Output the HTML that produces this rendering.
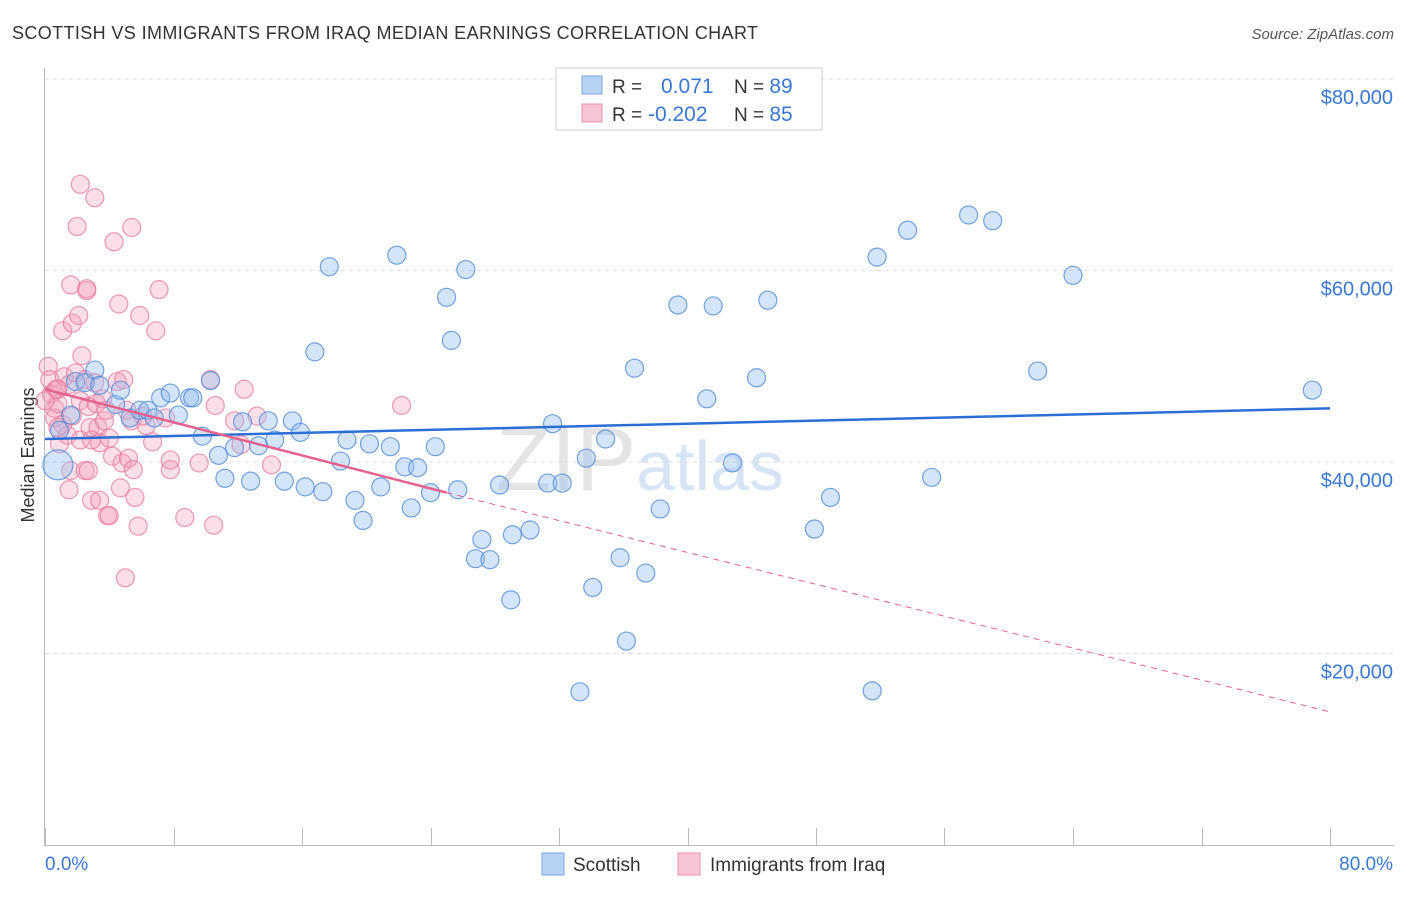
<!DOCTYPE html>
<html><head><meta charset="utf-8"><style>
body{margin:0;background:#fff;font-family:"Liberation Sans",sans-serif}
svg text{font-family:"Liberation Sans",sans-serif}
</style></head><body>
<svg id="c" width="1406" height="892">
<text x="12" y="39" font-size="18" fill="#333" textLength="746">SCOTTISH VS IMMIGRANTS FROM IRAQ MEDIAN EARNINGS CORRELATION CHART</text>
<text x="1394" y="39" font-size="15" fill="#555" font-style="italic" text-anchor="end">Source: ZipAtlas.com</text>
<text x="34" y="455" font-size="18" fill="#333" text-anchor="middle" transform="rotate(-90 34 455)">Median Earnings</text>
<text x="640" y="490" font-size="90" fill="#e4e4e4" text-anchor="middle" font-family="Liberation Serif">ZIP<tspan fill="#d6e4f3" font-family="Liberation Sans" font-size="70">atlas</tspan></text>
<g id="grid"></g><g id="axes"></g><g id="pink"></g><g id="blue"></g><g id="trend"></g>
<g>
<rect x="556" y="68" width="266" height="62" fill="#fff" stroke="#ccc"/>
<rect x="582" y="76" width="20" height="18" fill="#b8d2f3" stroke="#7aa7e0"/>
<rect x="582" y="104" width="20" height="18" fill="#f8c5d4" stroke="#ea8fab"/>
<text x="612" y="93" font-size="19" fill="#333">R = <tspan x="661" fill="#3a78d6" font-size="21">0.071</tspan><tspan x="734" fill="#333">N = </tspan><tspan fill="#3a78d6" font-size="21">89</tspan></text>
<text x="612" y="121" font-size="19" fill="#333">R = <tspan x="648" fill="#3a78d6" font-size="21">-0.202</tspan><tspan x="734" fill="#333">N = </tspan><tspan fill="#3a78d6" font-size="21">85</tspan></text>
</g>
<g>
<rect x="542" y="853" width="22" height="22" fill="#b8d2f3" stroke="#7aa7e0"/>
<text x="573" y="871" font-size="19" fill="#333">Scottish</text>
<rect x="678" y="853" width="22" height="22" fill="#f8c5d4" stroke="#ea8fab"/>
<text x="710" y="871" font-size="19" fill="#333">Immigrants from Iraq</text>
</g>
</svg>
<script>
const yTicks=[20000,40000,60000,80000];
const yTickLabels=["$20,000","$40,000","$60,000","$80,000"];
const xTickLabels=["0.0%","80.0%"];
const blueX=[0.8,0.9,1.6,1.9,2.5,3.1,3.4,4.4,4.7,5.3,5.9,6.4,6.8,7.2,7.8,8.3,9.0,9.2,9.8,10.3,10.8,11.2,11.8,12.3,12.8,13.3,13.9,14.3,14.9,15.4,15.9,16.2,16.8,17.3,17.7,18.4,18.8,19.3,19.8,20.2,20.9,21.5,21.9,22.4,22.8,23.2,24.0,24.3,25.0,25.3,25.7,26.2,27.2,26.8,27.7,28.3,29.0,29.1,30.2,31.3,31.6,32.2,33.3,33.7,34.1,34.9,35.8,36.2,36.7,37.4,38.3,39.4,41.2,41.6,42.8,44.3,45.0,47.9,48.9,51.5,51.8,53.7,55.2,57.5,59.0,61.8,64.0,78.9];
const blueY=[39.7,43.3,44.9,48.4,48.3,49.6,48.0,46.0,47.5,44.6,45.4,45.4,44.6,46.7,47.2,44.9,46.7,46.7,42.7,48.5,40.7,38.3,41.5,44.2,38.0,41.7,44.3,42.3,38.0,44.3,43.1,37.4,51.5,36.9,60.4,40.1,42.3,36.0,33.9,41.9,37.4,41.6,61.6,39.5,35.2,39.4,36.8,41.6,57.2,52.7,37.1,60.1,31.9,29.9,29.8,37.6,25.6,32.4,32.9,37.8,44.0,37.8,16.0,40.4,26.9,42.4,30.0,21.3,49.8,28.4,35.1,56.4,46.6,56.3,39.9,48.8,56.9,33.0,36.3,16.1,61.4,64.2,38.4,65.8,65.2,49.5,59.5,47.5];
const pinkX=[0.2,0.3,0.4,0.6,0.6,0.7,0.8,0.9,1.1,1.1,1.2,1.4,1.5,1.5,1.6,1.6,1.7,1.7,1.9,2.0,2.1,2.2,2.2,2.3,2.2,2.5,2.5,2.6,2.6,2.8,2.7,2.9,2.7,3.1,3.1,3.2,3.3,3.4,3.6,3.7,3.4,3.9,4.0,4.2,4.3,4.5,4.0,4.6,4.7,4.8,4.9,5.0,5.2,5.1,5.4,5.4,5.5,5.6,5.8,5.9,6.3,6.1,6.7,6.9,7.1,7.5,7.8,7.8,8.7,9.6,10.3,10.5,10.6,11.8,12.4,12.2,13.2,14.1,22.2,0.0,0.8,3.8,2.9,0.8];
const pinkY=[50.0,48.6,47.1,45.6,44.6,47.6,46.1,41.9,43.9,53.7,48.9,42.8,48.1,37.1,39.1,58.5,54.5,44.8,49.3,64.6,55.3,46.4,69.0,51.1,42.3,48.6,39.1,57.9,58.1,43.6,45.8,36.0,39.1,67.6,48.3,46.1,43.6,42.0,46.6,44.3,36.0,34.4,34.4,40.6,63.0,48.4,42.5,56.5,37.3,39.9,48.6,27.9,40.4,45.4,64.5,44.3,39.2,36.3,33.3,55.3,43.8,44.8,42.1,53.7,58.0,44.6,39.2,40.2,34.2,39.9,48.6,33.4,45.9,44.3,47.6,41.8,44.8,39.7,45.9,46.4,47.6,45.4,42.3,43.6];
const X0=45,X1=1330,Y0=845,PPK=191.5/20;
const sx=v=>X0+(v/80)*(X1-X0);
const sy=v=>Y0-v*PPK;
const NS="http://www.w3.org/2000/svg";
function mk(p,t,a){const e=document.createElementNS(NS,t);for(const k in a)e.setAttribute(k,a[k]);document.getElementById(p).appendChild(e);return e;}
yTicks.forEach((t,i)=>{
 const l=mk('grid','line',{x1:45,x2:1394,y1:sy(t/1000),y2:sy(t/1000),stroke:'#ddd','stroke-dasharray':'4,4'});
 
 
 const tx=mk('grid','text',{x:1393,y:sy(t/1000)+25,'font-size':20,fill:'#3a78d6','text-anchor':'end'});
 tx.textContent=yTickLabels[i];
 
 
});
mk('grid','line',{x1:45,x2:1394,y1:79,y2:79,stroke:'#ddd','stroke-dasharray':'4,4'});
mk('axes','line',{x1:44.5,x2:44.5,y1:68,y2:846,stroke:'#bbb'});
mk('axes','line',{x1:45,x2:1394,y1:845.5,y2:845.5,stroke:'#bbb'});
for(let i=0;i<=10;i++){const x=Math.round(sx(i*8))+0.5;mk('axes','line',{x1:x,x2:x,y1:828,y2:846,stroke:'#bbb'});}
[[0,45,'start'],[1,1393,'end']].forEach(([i,x,a])=>{const t=mk('axes','text',{x:x,y:870,'font-size':19,fill:'#3a78d6','text-anchor':a});t.textContent=xTickLabels[i];

});
pinkX.forEach((v,i)=>{const c=mk('pink','circle',{cx:sx(v),cy:sy(pinkY[i]),r:9,fill:'rgba(244,160,185,0.35)',stroke:'rgba(232,120,155,0.75)','stroke-width':1.2});

});
blueX.forEach((v,i)=>{const c=mk('blue','circle',{cx:sx(v),cy:sy(blueY[i]),r:i==0?15:9,fill:'rgba(150,190,240,0.4)',stroke:'rgba(80,140,220,0.8)','stroke-width':1.2});

});
let l=mk('trend','line',{x1:sx(0),y1:sy(42.4),x2:sx(80),y2:sy(45.6),stroke:'#2b6fd6','stroke-width':2.5});


l=mk('trend','line',{x1:sx(0),y1:sy(47.6),x2:sx(25),y2:sy(36.8),stroke:'#e6628e','stroke-width':2.5});


l=mk('trend','line',{x1:sx(25),y1:sy(36.8),x2:sx(80),y2:sy(13.9),stroke:'#e6628e','stroke-width':1,'stroke-dasharray':'6,5'});


</script>
</body></html>
